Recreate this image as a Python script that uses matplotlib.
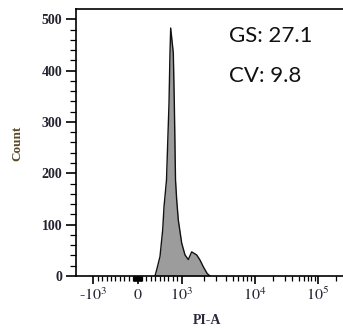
import numpy as np
import matplotlib
matplotlib.use("Agg")
import matplotlib.pyplot as plt

# PI-A histogram
pi_a = [396, 434, 509, 570, 600, 656, 713, 735, 751, 810, 833, 860, 887, 923,
        1000, 1110, 1232, 1372, 1607, 1785, 1980, 2233, 2443]
count = [0, 12, 38, 90, 135, 187, 337, 434, 483, 434, 337, 187, 148, 109,
         64, 41, 32, 47, 41, 31, 18, 5, 0]

x_major = [-1000, 0, 1000, 10000, 100000]
x_major_labels = [r"-$10^3$", r"$0$", r"$10^3$", r"$10^4$", r"$10^5$"]
stats_text = ["GS: 27.1", "CV: 9.8"]

# logicle-like axis: linear within +-1000, log above
T_ANCH = [-3, -1, 0, 1, 2, 3, 4]
P_ANCH = [5.5, 93.5, 137.5, 181.7, 254.5, 317.5, 380.5]


def to_t(x):
    x = np.asarray(x, dtype=float)
    ax_ = np.maximum(np.abs(x), 1e-12)
    return np.where(ax_ <= 1000, x / 1000.0, np.sign(x) * (1 + np.log10(ax_ / 1000.0)))


def from_t(t):
    t = np.asarray(t, dtype=float)
    return np.where(np.abs(t) <= 1, t * 1000.0, np.sign(t) * 1000.0 * 10 ** (np.abs(t) - 1))


def fwd(x):
    return np.interp(to_t(x), T_ANCH, P_ANCH)


def inv(p):
    return from_t(np.interp(p, P_ANCH, T_ANCH))


plt.rcParams["mathtext.fontset"] = "stix"
serif = "Liberation Serif"
txt_col = "#222230"

fig = plt.figure(figsize=(3.43, 3.28), dpi=100)
ax = fig.add_axes([76 / 343, 52 / 328, 267 / 343, 267 / 328])
ax.set_xscale("function", functions=(fwd, inv))

ax.fill_between(pi_a, count, color="#9c9c9c", lw=0)
ax.plot(pi_a, count, color="#111111", lw=1.0)

ax.set_xlim(float(inv(76)), float(inv(343)))
ax.set_ylim(0, 520)

minors = []
for d in [10, 100]:
    for m in range(1, 10):
        minors += [m * d, -m * d]
for d in [1000, 10000, 100000]:
    for m in range(2, 10):
        v = m * d
        if fwd(v) < 343:
            minors.append(v)
ax.set_xticks(x_major)
ax.set_xticklabels(x_major_labels)
ax.set_xticks(minors, minor=True)

ax.set_yticks(np.arange(0, 501, 100))
ax.set_yticks(np.arange(0, 501, 20), minor=True)

ax.tick_params(axis="x", which="major", length=6, width=1.2, pad=2, labelsize=11.5, colors="black", labelcolor=txt_col)
ax.tick_params(axis="x", which="minor", length=3.5, width=0.9)
ax.tick_params(axis="y", which="major", length=7, width=1.2, pad=3, labelsize=10, labelcolor=txt_col)
ax.tick_params(axis="y", which="minor", length=4, width=0.9)
for lab in ax.get_yticklabels():
    lab.set_family(serif)
    lab.set_fontweight("bold")
for lab in ax.get_xticklabels():
    lab.set_family(serif)

for s in ["left", "bottom", "top"]:
    ax.spines[s].set_linewidth(1.2)
ax.spines["right"].set_visible(False)

fig.text(17 / 343, 1 - 143 / 328, "Count", rotation=90, ha="center", va="center",
         family=serif, fontsize=9.5, fontweight="bold", color="#5a4a2a")
fig.text(207 / 343, 1 - 321 / 328, "PI-A", ha="center", va="center",
         family=serif, fontsize=10, fontweight="bold", color="#2a2a3a")

for i, s in enumerate(stats_text):
    ax.text((229 - 76) / 267, [0.876, 0.727][i], s, transform=ax.transAxes,
            ha="left", va="baseline", family="Lato", fontsize=16, color="#111111")

fig.savefig("out.png", dpi=100)
